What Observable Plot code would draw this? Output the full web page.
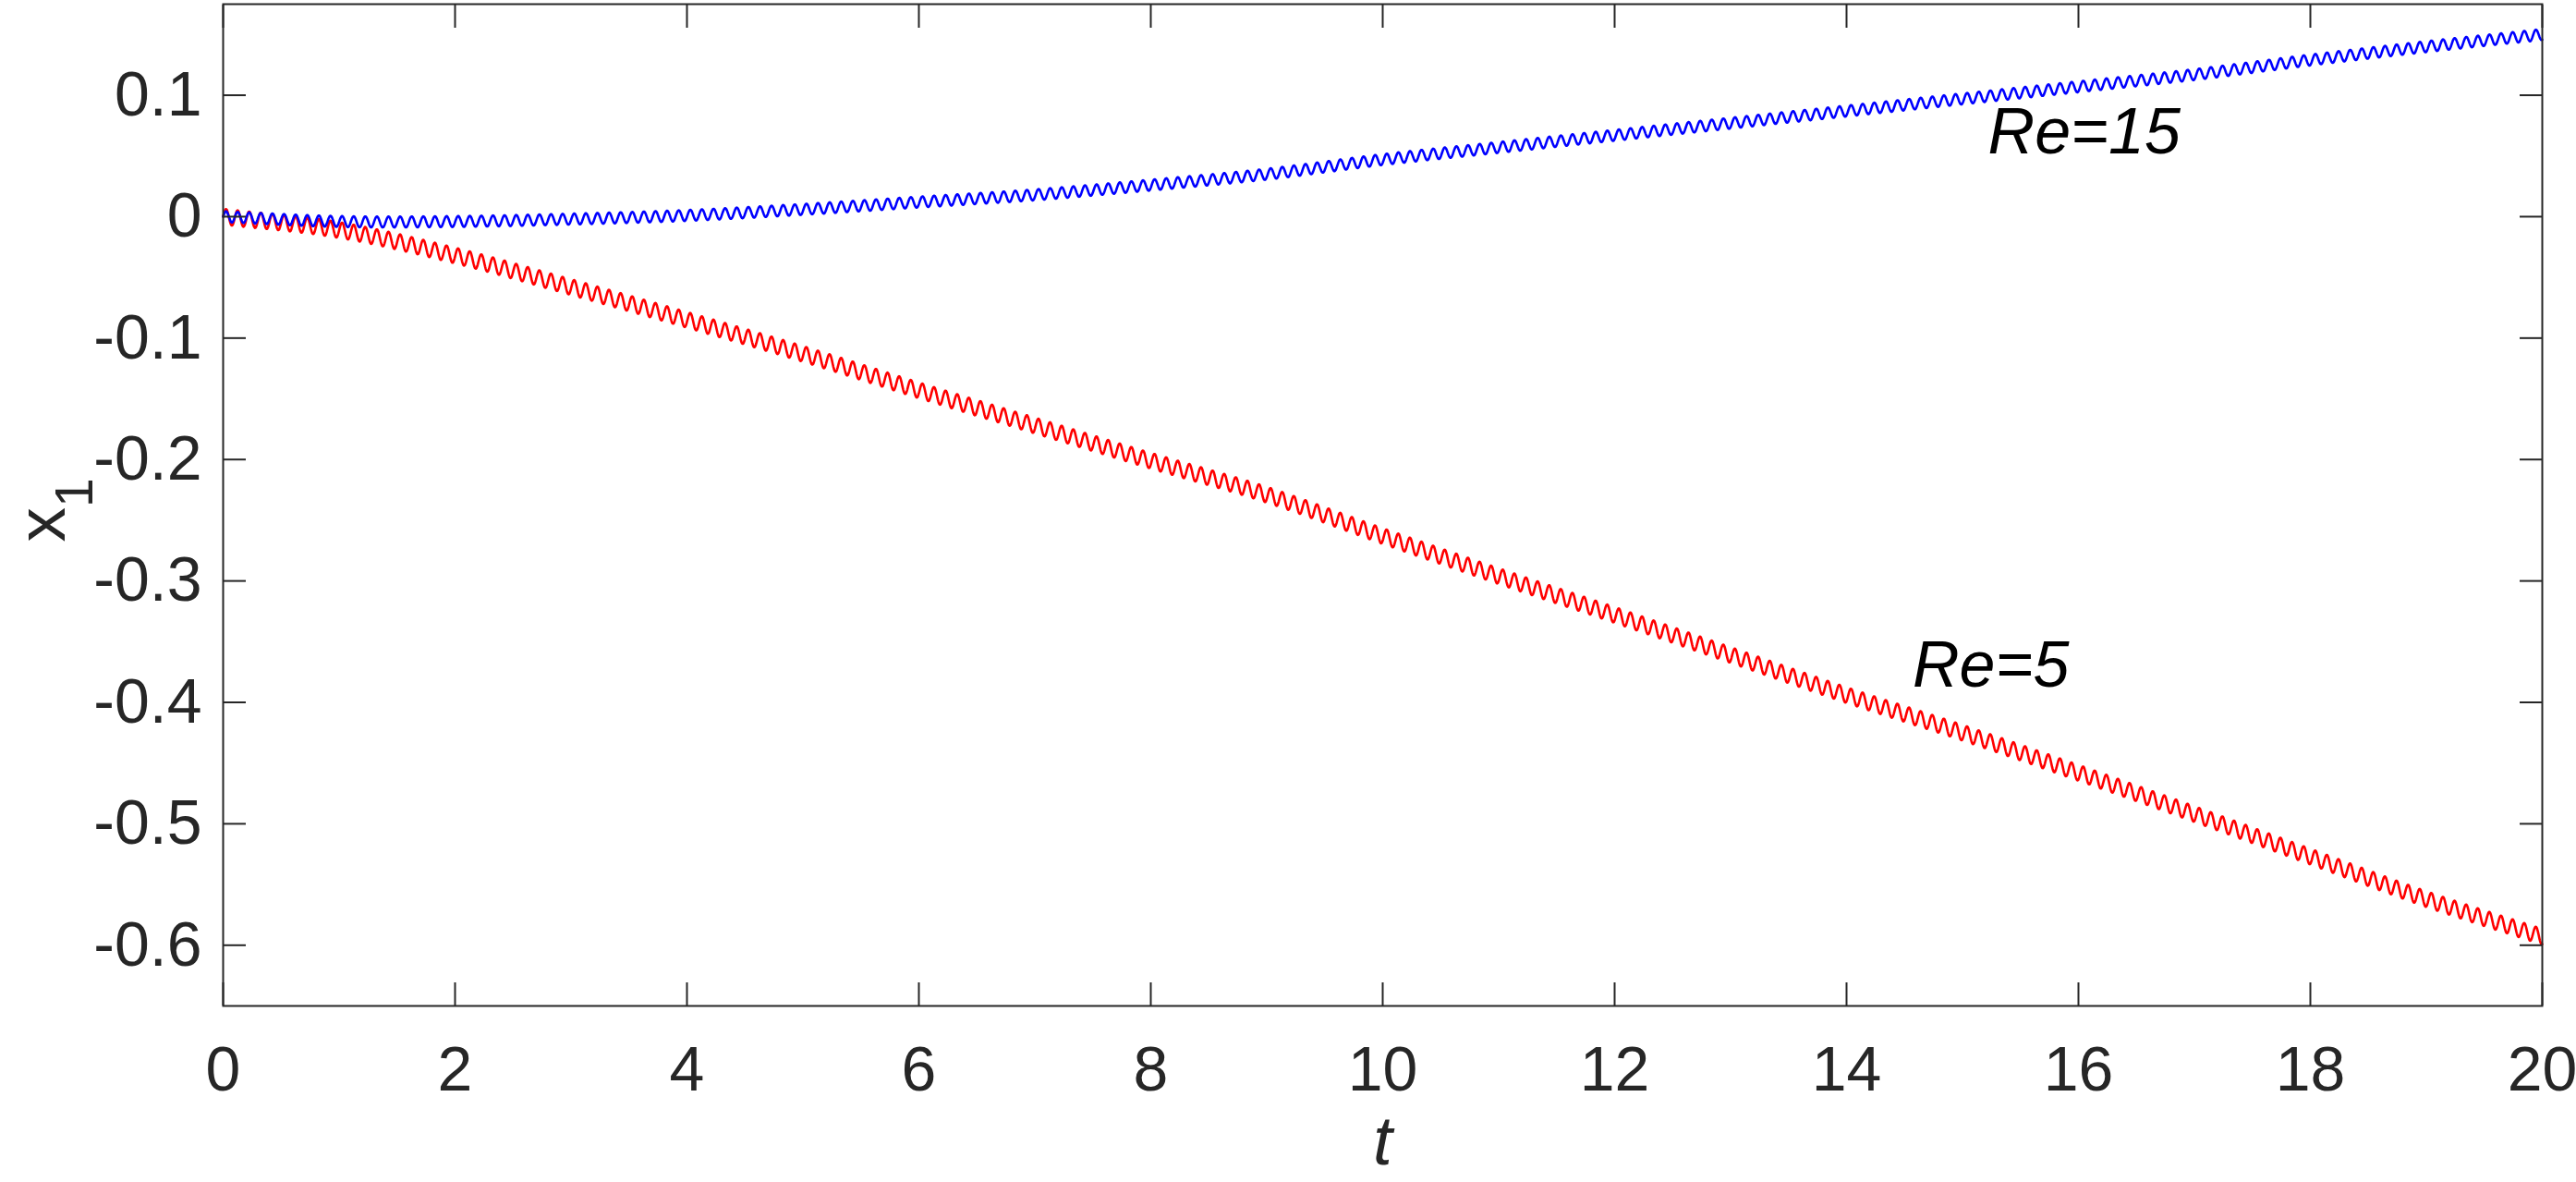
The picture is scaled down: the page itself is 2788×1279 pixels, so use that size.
<!DOCTYPE html>
<html><head><meta charset="utf-8">
<script src="https://cdn.jsdelivr.net/npm/d3@7"></script>
<script src="https://cdn.jsdelivr.net/npm/@observablehq/plot@0.6"></script>
<style>
html,body{margin:0;padding:0;background:#fff;}
#chart{width:2788px;height:1279px;}
</style></head><body><div id="chart"></div>
<script>
// ---- data ----
const tKnots = [0,1,2,3,4,5,6,7,8,9,10,11,12,13,14,15,16,17,18,19,20];
// mean (trend) of x1 for each run, read at integer t
const re5Trend  = [0,-0.011,-0.032,-0.058,-0.085,-0.113,-0.143,-0.172,-0.201,-0.229,-0.263,-0.296,-0.328,-0.361,-0.394,-0.425,-0.458,-0.492,-0.527,-0.562,-0.593];
const re15Trend = [0,-0.004,-0.004,-0.002,0.001,0.006,0.012,0.018,0.026,0.035,0.047,0.057,0.067,0.077,0.087,0.097,0.107,0.117,0.129,0.140,0.150];
// oscillation: half peak-to-trough and period (in t)
const re5Amp = 0.0065;
const re15Amp = 0.0045;
const oscPeriod = 0.1001;
const seriesNames = ["Re=5", "Re=15"];
const xTicks = [0,2,4,6,8,10,12,14,16,18,20];
const yTicks = [0.1,0,-0.1,-0.2,-0.3,-0.4,-0.5,-0.6];
const annotations = [
  {t: 14.57, v: -0.387, label: "Re=5"},
  {t: 15.22, v: 0.052, label: "Re=15"}
];

const rows5 = tKnots.map((t, i) => ({t, x1: re5Trend[i], run: seriesNames[0]}));
const rows15 = tKnots.map((t, i) => ({t, x1: re15Trend[i], run: seriesNames[1]}));
const cycles = (tKnots[tKnots.length - 1] - tKnots[0]) / oscPeriod;

// curve that draws a smooth path through the knots with a small periodic ripple
function rippleCurve(ampPx, nCycles) {
  return function(context) {
    let pts = [];
    return {
      areaStart() {}, areaEnd() {},
      lineStart() { pts = []; },
      point(x, y) { pts.push([+x, +y]); },
      lineEnd() {
        const n = pts.length;
        if (n < 2) return;
        const x0 = pts[0][0], x1 = pts[n - 1][0];
        const m = pts.map((p, i) => {
          const a = pts[Math.max(0, i - 1)], b = pts[Math.min(n - 1, i + 1)];
          return (b[1] - a[1]) / (b[0] - a[0]);
        });
        const steps = Math.ceil((x1 - x0) * 2);
        let seg = 0;
        for (let k = 0; k <= steps; k++) {
          const x = x0 + (x1 - x0) * k / steps;
          while (seg < n - 2 && x > pts[seg + 1][0]) seg++;
          const p = pts[seg], q = pts[seg + 1];
          const h = q[0] - p[0], s = (x - p[0]) / h;
          const s2 = s * s, s3 = s2 * s;
          const yb = (2*s3 - 3*s2 + 1) * p[1] + (s3 - 2*s2 + s) * h * m[seg] + (-2*s3 + 3*s2) * q[1] + (s3 - s2) * h * m[seg + 1];
          const y = yb - ampPx * Math.sin(2 * Math.PI * nCycles * (x - x0) / (x1 - x0));
          if (k === 0) context.moveTo(x, y); else context.lineTo(x, y);
        }
      }
    };
  };
}

const W = 2788, H = 1279, mL = 241, mR = 37, mT = 4, mB = 191;
const FONT = "'Liberation Sans', Arial, Helvetica, sans-serif";

function build(ampPx5, ampPx15) {
  return Plot.plot({
    width: W, height: H,
    marginLeft: mL, marginRight: mR, marginTop: mT, marginBottom: mB,
    x: {domain: [0, 20]},
    y: {domain: [-0.65, 0.175]},
    style: {fontFamily: FONT, fontSize: "68px", color: "#262626", background: "#fff"},
    marks: [
      Plot.line(rows5, {x: "t", y: "x1", stroke: "#ff0000", strokeWidth: 2.6, curve: rippleCurve(ampPx5, cycles)}),
      Plot.line(rows15, {x: "t", y: "x1", stroke: "#0000ff", strokeWidth: 2.6, curve: rippleCurve(ampPx15, cycles)}),
      Plot.text(annotations, {x: "t", y: "v", text: "label", textAnchor: "start", lineAnchor: "bottom", fontStyle: "italic", fontSize: 70, fill: "#000"}),
      Plot.axisX(xTicks, {anchor: "bottom", tickSize: -25, tickPadding: 68, strokeWidth: 2, label: null, fontSize: 68, tickFormat: d => String(d)}),
      Plot.axisX(xTicks, {anchor: "top", tickSize: -25, strokeWidth: 2, label: null, tickFormat: () => ""}),
      Plot.axisY(yTicks, {anchor: "left", tickSize: -25, tickPadding: 48, strokeWidth: 2, label: null, fontSize: 68, tickFormat: d => String(d)}),
      Plot.axisY(yTicks, {anchor: "right", tickSize: -25, strokeWidth: 2, label: null, tickFormat: () => ""}),
      Plot.frame({stroke: "#262626", strokeWidth: 2}),
      Plot.text(["t"], {frameAnchor: "bottom", dy: 171, lineAnchor: "bottom", fontStyle: "italic", fontSize: 75, fill: "#262626"})
    ]
  });
}

const probe = build(0, 0);
const ys = probe.scale("y");
const px5 = Math.abs(ys.apply(0) - ys.apply(re5Amp));
const px15 = Math.abs(ys.apply(0) - ys.apply(re15Amp));
const chart = build(px5, px15);

// y-axis label x with subscript 1
const cy = (mT + H - mB) / 2 + 6;
const lbl = d3.select(chart).append("text")
  .attr("transform", `translate(70,${cy}) rotate(-90)`)
  .attr("text-anchor", "middle")
  .attr("fill", "#262626")
  .attr("font-family", FONT)
  .attr("font-size", 75);
lbl.append("tspan").text("x");
lbl.append("tspan").attr("dy", 30).attr("font-size", 57).text("1");

document.getElementById("chart").appendChild(chart);
</script>
</body></html>
